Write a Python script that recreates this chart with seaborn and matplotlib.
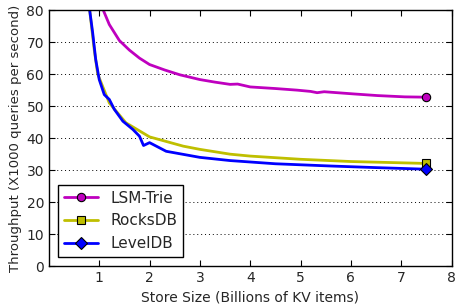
import seaborn as sns
import pandas as pd
import matplotlib.pyplot as plt

# values
lsm_x = [1.0, 1.08, 1.2, 1.4, 1.6, 1.8, 2.0, 2.3, 2.6, 3.0, 3.3, 3.6, 3.75, 4.0, 4.5, 4.93, 5.2, 5.33, 5.47, 6.07, 6.53, 7.07, 7.5]
lsm_y = [84.0, 80.0, 75.5, 70.5, 67.5, 65.0, 63.0, 61.3, 59.8, 58.3, 57.5, 56.8, 56.9, 56.0, 55.5, 55.0, 54.6, 54.2, 54.5, 53.8, 53.3, 52.9, 52.8]

rocks_x = [0.78, 0.81, 0.9, 0.97, 1.2, 1.53, 2.0, 2.67, 3.0, 3.6, 4.0, 5.0, 6.0, 7.0, 7.5]
rocks_y = [85.0, 80.0, 67.7, 60.0, 51.0, 44.8, 40.4, 37.5, 36.5, 35.0, 34.4, 33.4, 32.7, 32.3, 32.1]

level_x = [0.78, 0.81, 0.87, 0.93, 1.0, 1.1, 1.2, 1.3, 1.47, 1.67, 1.8, 1.88, 2.0, 2.33, 3.0, 3.6, 4.5, 5.6, 6.5, 7.5]
level_y = [85.0, 80.0, 72.9, 64.6, 58.3, 53.6, 52.1, 49.0, 45.3, 42.7, 40.6, 37.7, 38.6, 35.9, 34.0, 33.0, 32.0, 31.3, 30.8, 30.3]

names = ["LSM-Trie", "RocksDB", "LevelDB"]
colors = [(0.75, 0, 0.75), (0.75, 0.75, 0), (0, 0, 1)]
markers = ["o", "s", "D"]

df = pd.concat([
    pd.DataFrame({"size": lsm_x, "tput": lsm_y, "store": names[0]}),
    pd.DataFrame({"size": rocks_x, "tput": rocks_y, "store": names[1]}),
    pd.DataFrame({"size": level_x, "tput": level_y, "store": names[2]}),
])

sns.set_style("ticks")
plt.rcParams['font.family'] = ['DejaVu Sans']

fig, ax = plt.subplots(figsize=(4.57, 3.06), dpi=100)
for name, c, m in zip(names, colors, markers):
    sub = df[df["store"] == name]
    sns.lineplot(data=sub, x="size", y="tput", ax=ax, color=c, lw=2,
                 marker=m, markevery=[len(sub) - 1], markersize=6,
                 markeredgecolor="black", markeredgewidth=0.8,
                 label=name, sort=False, estimator=None)

ax.set_xlim(0, 8)
ax.set_ylim(0, 80)
ax.set_xticks([1, 2, 3, 4, 5, 6, 7, 8])
ax.set_yticks(range(0, 81, 10))
ax.tick_params(direction="in", top=True, right=True, labelsize=10, length=4, color="black")
ax.yaxis.grid(True, linestyle=(0, (1, 3)), color="black", lw=0.7)
for s in ax.spines.values():
    s.set_color("black")
    s.set_linewidth(1)
ax.set_xlabel("Store Size (Billions of KV items)", fontsize=10)
ax.set_ylabel("Throughput (X1000 queries per second)", fontsize=9.5, labelpad=3)

leg = ax.legend(loc="lower left", fontsize=11, fancybox=False, framealpha=1,
                edgecolor="black", borderaxespad=0.6, handlelength=2.2)
leg.get_frame().set_linewidth(1)

fig.subplots_adjust(left=0.107, right=0.988, top=0.967, bottom=0.13)
fig.savefig("out.png", dpi=100)
